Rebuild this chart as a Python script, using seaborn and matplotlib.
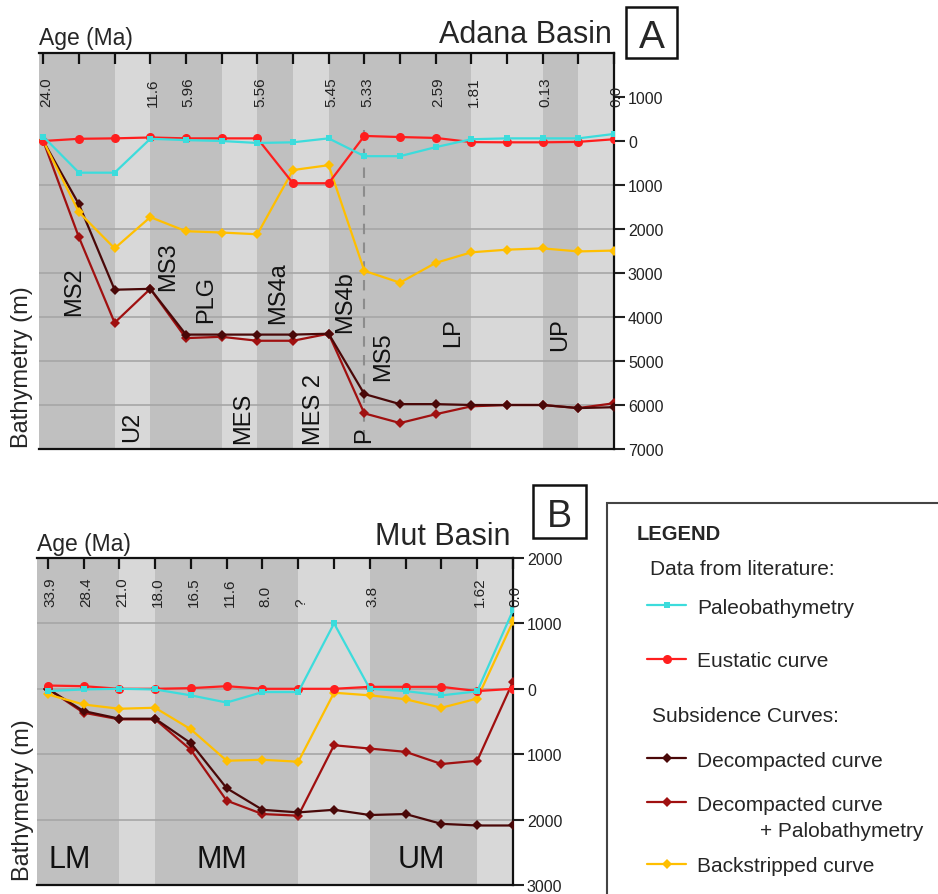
import matplotlib
matplotlib.use("Agg")
import matplotlib.pyplot as plt
import seaborn as sns
from matplotlib.patches import Rectangle
from matplotlib.lines import Line2D
from matplotlib.ticker import FixedLocator, FuncFormatter
import matplotlib.transforms as mtransforms

# ---------------- data: Panel A (Adana Basin) ----------------
a_ages = ["24.0", "", "", "11.6", "5.96", "", "5.56", "", "5.45", "5.33",
          "", "2.59", "1.81", "", "0.13", "", "0.0"]
a_paleo = [-100, 720, 720, -50, -20, 0, 45, 30, -60, 345, 345, 140, -40, -60, -60, -60, -160]
a_eustatic = [0, -50, -60, -80, -60, -60, -60, 960, 960, -115, -90, -70, 25, 30, 30, 20, -40]
a_decomp = [0, 1440, 3380, 3360, 4400, 4400, 4400, 4400, 4380, 5750, 5980, 5980, 6000, 6000, 6000, 6070, 6050]
a_decomp_pb = [0, 2190, 4130, 3360, 4480, 4450, 4540, 4540, 4380, 6190, 6410, 6210, 6030, 6000, 6000, 6070, 5960]
a_backstrip = [0, 1620, 2440, 1730, 2050, 2080, 2120, 660, 550, 2950, 3220, 2770, 2530, 2470, 2440, 2510, 2490]
a_units = ["MS2", "U2", "MS3", "PLG", "MES", "MS4a", "MES 2", "MS4b", "P", "MS5", "LP", "UP"]
a_unit_x = [0.86, 2.48, 3.5, 4.56, 5.59, 6.57, 7.6, 8.46, 9.0, 9.54, 11.5, 14.5]
a_unit_y = [3410, 6480, 2840, 3590, 6270, 3430, 6090, 3640, 6660, 4890, 4340, 4370]
a_bands = [(None, 2, "dark"), (2, 3, "light"), (3, 5, "dark"), (5, 6, "light"), (6, 7, "dark"),
           (7, 8, "light"), (8, 12, "dark"), (12, 14, "light"), (14, 15, "dark"), (15, 16, "light")]

# ---------------- data: Panel B (Mut Basin) ----------------
b_ages = ["33.9", "28.4", "21.0", "18.0", "16.5", "11.6", "8.0", "?", "", "3.8", "", "", "1.62", "0.0"]
b_paleo = [35, 10, 0, 10, 100, 210, 50, 50, -1000, 0, 35, 100, 40, -1200]
b_eustatic = [-50, -40, 0, 0, -10, -40, 0, 0, 0, -30, -30, -30, 35, 0]
b_decomp = [0, 340, 457, 457, 832, 1520, 1850, 1890, 1850, 1930, 1915, 2065, 2090, 2090]
b_decomp_pb = [0, 365, 467, 467, 934, 1710, 1915, 1940, 863, 914, 964, 1150, 1100, -110]
b_backstrip = [85, 240, 305, 290, 620, 1100, 1085, 1115, 60, 100, 160, 290, 150, -1030]
b_units = ["LM", "MM", "UM"]
b_unit_x = [0.62, 4.87, 10.45]
b_unit_y = [2600, 2600, 2600]
b_bands = [(None, 2, "dark"), (2, 3, "light"), (3, 7, "dark"), (7, 9, "light"),
           (9, 12, "dark"), (12, 13, "light")]

legend_labels = ["Paleobathymetry", "Eustatic curve", "Decompacted curve",
                 "Decompacted curve", "Backstripped curve"]

# ---------------- style ----------------
sns.set_style("white")
plt.rcParams["font.family"] = ["Liberation Sans", "DejaVu Sans"]

C_CYAN = "#3cdcdc"
C_RED = "#ff1e1e"
C_YEL = "#ffbf00"
C_DARK = "#4a0808"
C_RB = "#a01010"
BAND = {"dark": "#c0c0c0", "light": "#d8d8d8"}
GRID = "#a6a6a6"

W, H = 938, 895
fig = plt.figure(figsize=(W / 100, H / 100), dpi=100)


def fx(px):
    return px / W


def fy(py):
    return 1 - py / H


def make_panel(rect_px, xlim, ylim, yticks, gridvals, bands):
    l, t, r, b = rect_px
    ax = fig.add_axes([fx(l), fy(b), (r - l) / W, (b - t) / H])
    ax.set_xlim(*xlim)
    ax.set_ylim(*ylim)
    for x0, x1, kind in bands:
        ax.axvspan(xlim[0] if x0 is None else x0, x1, color=BAND[kind], lw=0, zorder=0)
    for g in gridvals:
        ax.axhline(g, color=GRID, lw=1.2, zorder=0.5)
    ax.xaxis.set_ticks_position("top")
    ax.tick_params(axis="x", direction="in", length=8, width=1.6, color="#111",
                   labeltop=False, labelbottom=False, top=True, bottom=False)
    ax.yaxis.tick_right()
    ax.yaxis.set_major_locator(FixedLocator(yticks))
    ax.yaxis.set_major_formatter(FuncFormatter(lambda v, p: f"{abs(int(round(v)))}"))
    ax.tick_params(axis="y", direction="out", length=8, width=1.5, color="#222",
                   labelsize=11.5, labelcolor="#222", pad=2, right=True, left=False)
    ax.spines["left"].set_visible(False)
    for s in ("top", "bottom", "right"):
        ax.spines[s].set_color("#111")
        ax.spines[s].set_linewidth(1.6)
    return ax


def draw_series(ax, n, paleo, eust, decomp, decomp_pb, back):
    xs = list(range(n))
    kw = dict(ax=ax, sort=False, linewidth=1.6, markeredgewidth=0)
    sns.lineplot(x=xs, y=decomp_pb, color=C_RB, marker="D", markersize=5.5, zorder=3, **kw)
    sns.lineplot(x=xs, y=decomp, color=C_DARK, marker="D", markersize=5.5, zorder=3.2, **kw)
    sns.lineplot(x=xs, y=back, color=C_YEL, marker="D", markersize=5.5, zorder=3.4, **kw)
    sns.lineplot(x=xs, y=eust, color=C_RED, marker="o", markersize=6.5, zorder=3.6, **kw)
    sns.lineplot(x=xs, y=paleo, color=C_CYAN, marker="s", markersize=5, zorder=3.8, **kw)
    ax.set_xlabel("")
    ax.set_ylabel("")
    ax.xaxis.set_major_locator(FixedLocator(xs))


# ---------------- Panel A ----------------
axA = make_panel((39, 54, 614, 450), (-0.12, 16), (7000, -2000),
                 list(range(-1000, 8000, 1000)), list(range(1000, 7000, 1000)), a_bands)
axA.vlines(9, -250, 7000, colors="#8c8c8c", linestyles=(0, (5, 4)), lw=1.5, zorder=1)
draw_series(axA, len(a_ages), a_paleo, a_eustatic, a_decomp, a_decomp_pb, a_backstrip)
trA = mtransforms.blended_transform_factory(axA.transData, axA.transAxes)
for i, lab in enumerate(a_ages):
    if lab:
        axA.text(i + 0.08, 1 - (107 - 54) / 396, lab, rotation=90, ha="center", va="bottom",
                 fontsize=11, color="#222", transform=trA, zorder=5)
for lab, x, y in zip(a_units, a_unit_x, a_unit_y):
    axA.text(x, y, lab, rotation=90, ha="center", va="center", fontsize=17, color="#111", zorder=5)

fig.text(fx(39), fy(45), "Age (Ma)", ha="left", va="baseline", fontsize=16.5)
fig.text(fx(612), fy(43), "Adana Basin", ha="right", va="baseline", fontsize=22)
fig.add_artist(Rectangle((fx(626), fy(59)), (677 - 626) / W, (59 - 8) / H,
                         transform=fig.transFigure, fill=False, lw=1.8, ec="#111"))
fig.text(fx(651.5), fy(48), "A", ha="center", va="baseline", fontsize=28)
fig.text(fx(22), fy(367), "Bathymetry (m)", rotation=90, ha="center", va="center", fontsize=17)

# ---------------- Panel B ----------------
axB = make_panel((37, 559, 513, 886), (-0.3, 13), (3000, -2000),
                 list(range(-2000, 4000, 1000)), [-1000, 0, 1000, 2000], b_bands)
draw_series(axB, len(b_ages), b_paleo, b_eustatic, b_decomp, b_decomp_pb, b_backstrip)
trB = mtransforms.blended_transform_factory(axB.transData, axB.transAxes)
for i, lab in enumerate(b_ages):
    if lab:
        axB.text(i + 0.08, 1 - (607 - 559) / 327, lab, rotation=90, ha="center", va="bottom",
                 fontsize=11, color="#222", transform=trB, zorder=5)
for lab, x, y in zip(b_units, b_unit_x, b_unit_y):
    axB.text(x, y, lab, ha="center", va="center", fontsize=22, color="#111", zorder=5)

fig.text(fx(37), fy(551), "Age (Ma)", ha="left", va="baseline", fontsize=16.5)
fig.text(fx(510), fy(545), "Mut Basin", ha="right", va="baseline", fontsize=22)
fig.add_artist(Rectangle((fx(533), fy(539)), (586 - 533) / W, (539 - 486) / H,
                         transform=fig.transFigure, fill=False, lw=1.8, ec="#111"))
fig.text(fx(559.5), fy(527), "B", ha="center", va="baseline", fontsize=27)
fig.text(fx(23), fy(800), "Bathymetry (m)", rotation=90, ha="center", va="center", fontsize=17)

# ---------------- Legend ----------------
fig.add_artist(Rectangle((fx(607), fy(905)), (960 - 607) / W, (905 - 504) / H,
                         transform=fig.transFigure, fill=False, lw=1.5, ec="#444"))
fig.text(fx(637), fy(540), "LEGEND", ha="left", va="baseline", fontsize=14.5, fontweight="bold")
fig.text(fx(650), fy(575), "Data from literature:", ha="left", va="baseline", fontsize=15)
fig.text(fx(652), fy(722), "Subsidence Curves:", ha="left", va="baseline", fontsize=15)

entries = [
    (606, C_CYAN, "s", 5, legend_labels[0], 614),
    (660, C_RED, "o", 6.5, legend_labels[1], 667),
    (759, C_DARK, "D", 5.5, legend_labels[2], 767),
    (803, C_RB, "D", 5.5, legend_labels[3], 811),
    (865, C_YEL, "D", 5.5, legend_labels[4], 872),
]
for ly, col, mk, ms, lab, base in entries:
    fig.add_artist(Line2D([fx(647), fx(686)], [fy(ly), fy(ly)], transform=fig.transFigure,
                          color=col, lw=1.6))
    fig.add_artist(Line2D([fx(667)], [fy(ly)], transform=fig.transFigure, color=col,
                          marker=mk, markersize=ms, markeredgewidth=0, lw=0))
    fig.text(fx(697), fy(base), lab, ha="left", va="baseline", fontsize=15)
fig.text(fx(760), fy(837), "+ Palobathymetry", ha="left", va="baseline", fontsize=15)

fig.savefig("out.png", dpi=100)
